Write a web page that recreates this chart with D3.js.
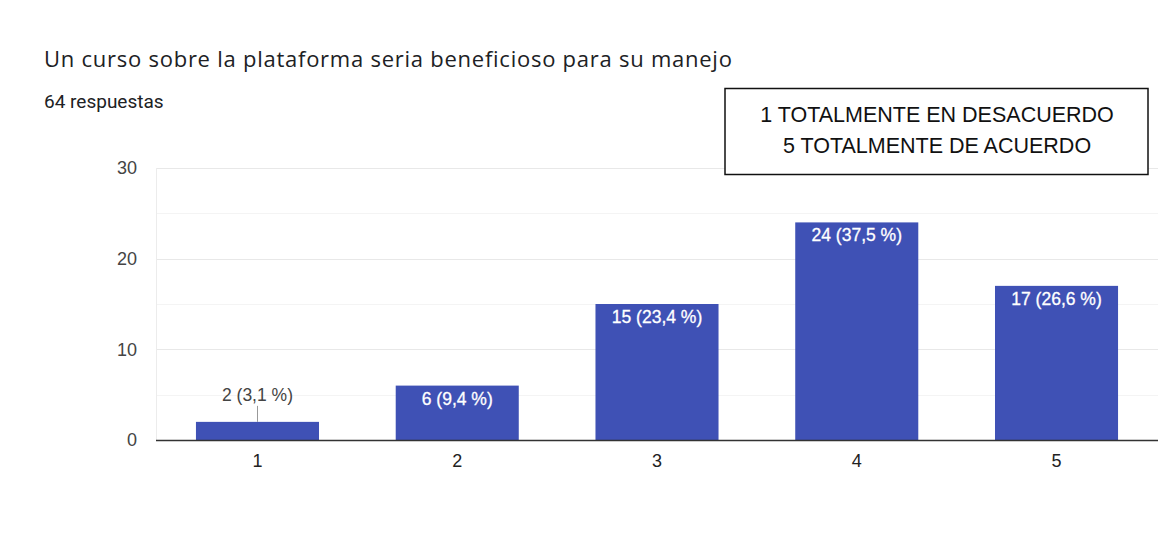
<!DOCTYPE html>
<html lang="en">
  <head>
    <meta charset="utf-8">
    <title>Un curso sobre la plataforma</title>
    <script src="https://cdn.jsdelivr.net/npm/d3@7"></script>
    <style>
      body { margin: 0; background: #fff; }
      svg { display: block; }
    </style>
  </head>
  <body>
    <div id="chart"></div>
    <script type='text/javascript'>
      // data
      let categories = ['1', '2', '3', '4', '5'];
      let counts = [2, 6, 15, 24, 17];
      let labels = ['2 (3,1 %)', '6 (9,4 %)', '15 (23,4 %)', '24 (37,5 %)', '17 (26,6 %)'];
      let yTicks = [0, 10, 20, 30];
      let yMinor = [5, 15, 25];
      let legendLines = ['1 TOTALMENTE EN DESACUERDO', '5 TOTALMENTE DE ACUERDO'];

      let width = 1168, height = 550;
      let margin = {top: 168, right: 10, bottom: 110, left: 156};
      let labelFont = 'Arial, "Liberation Sans", sans-serif';

      let svg = d3.select('#chart').append('svg')
        .attr('width', width)
        .attr('height', height)

      let x = d3.scaleBand()
        .domain(categories)
        .range([margin.left, width - margin.right])
        .paddingInner(0.384)
        .paddingOuter(0.2)

      let y = d3.scaleLinear()
        .domain([0, 30])
        .range([height - margin.bottom, margin.top])

      // title
      svg.append('text')
        .attr('x', 44).attr('y', 67)
        .attr('font-family', '"Open Sans", Roboto, sans-serif')
        .attr('font-size', 22)
        .attr('letter-spacing', 0.75)
        .attr('fill', '#202124')
        .text('Un curso sobre la plataforma seria beneficioso para su manejo')

      svg.append('text')
        .attr('x', 44).attr('y', 108)
        .attr('font-family', 'Roboto, Arial, sans-serif')
        .attr('font-size', 19)
        .attr('fill', '#202124')
        .text('64 respuestas')

      // grid
      svg.append('g')
        .selectAll('line')
        .data(yMinor)
        .join('line')
        .attr('x1', margin.left).attr('x2', width - margin.right)
        .attr('y1', d => Math.round(y(d)) + 0.5).attr('y2', d => Math.round(y(d)) + 0.5)
        .attr('stroke', '#f4f4f4')

      svg.append('g')
        .selectAll('line')
        .data(yTicks.slice(1))
        .join('line')
        .attr('x1', margin.left).attr('x2', width - margin.right)
        .attr('y1', d => Math.round(y(d)) + 0.5).attr('y2', d => Math.round(y(d)) + 0.5)
        .attr('stroke', '#e8e8e8')

      svg.append('line')
        .attr('x1', margin.left + 0.5).attr('x2', margin.left + 0.5)
        .attr('y1', y(30)).attr('y2', y(0))
        .attr('stroke', '#ececec')

      // y axis labels
      let yAxis = svg.append('g')
        .attr('transform', 'translate(' + (margin.left - 19) + ',0)')
        .call(d3.axisLeft(y).tickValues(yTicks).tickSize(0).tickPadding(0))
      yAxis.select('.domain').remove()
      yAxis.selectAll('text')
        .attr('font-family', labelFont)
        .attr('font-size', 18)
        .attr('fill', '#444')

      // bars
      svg.append('g')
        .selectAll('rect')
        .data(counts)
        .join('rect')
        .attr('x', (d, i) => x(categories[i]))
        .attr('width', x.bandwidth())
        .attr('y', d => y(d))
        .attr('height', d => y(0) - y(d))
        .attr('fill', '#3f51b5')

      // baseline
      svg.append('line')
        .attr('x1', margin.left).attr('x2', width - margin.right)
        .attr('y1', y(0) + 0.5).attr('y2', y(0) + 0.5)
        .attr('stroke', '#333')
        .attr('stroke-width', 1.3)

      // x axis labels
      let xAxis = svg.append('g')
        .attr('transform', 'translate(0,' + (y(0) + 27) + ')')
        .call(d3.axisBottom(x).tickSize(0).tickPadding(0))
      xAxis.select('.domain').remove()
      xAxis.selectAll('text')
        .attr('dy', 0)
        .attr('font-family', labelFont)
        .attr('font-size', 18)
        .attr('fill', '#222')

      // value labels: outside the bar when it is too short
      let outside = d => y(0) - y(d) < 30;

      svg.append('g')
        .selectAll('text')
        .data(counts)
        .join('text')
        .attr('x', (d, i) => x(categories[i]) + x.bandwidth() / 2)
        .attr('y', d => outside(d) ? y(d) - 21 : y(d) + 19)
        .attr('text-anchor', 'middle')
        .attr('font-family', labelFont)
        .attr('font-size', 17.5)
        .attr('fill', d => outside(d) ? '#444' : '#fff')
        .attr('stroke', d => outside(d) ? 'none' : '#fff')
        .attr('stroke-width', 0.3)
        .text((d, i) => labels[i])

      // leader line for short bar
      svg.append('g')
        .selectAll('line')
        .data(categories.filter((c, i) => outside(counts[i])))
        .join('line')
        .attr('x1', c => Math.round(x(c) + x.bandwidth() / 2) + 0.5)
        .attr('x2', c => Math.round(x(c) + x.bandwidth() / 2) + 0.5)
        .attr('y1', c => y(counts[categories.indexOf(c)]) - 16)
        .attr('y2', c => y(counts[categories.indexOf(c)]))
        .attr('stroke', '#999')

      // legend box
      let box = svg.append('g')
      box.append('rect')
        .attr('x', 725).attr('y', 88.5)
        .attr('width', 423).attr('height', 86)
        .attr('fill', '#fff')
        .attr('stroke', '#111')
        .attr('stroke-width', 1.5)
      box.selectAll('text')
        .data(legendLines)
        .join('text')
        .attr('x', 937)
        .attr('y', (d, i) => 122 + i * 31)
        .attr('text-anchor', 'middle')
        .attr('font-family', labelFont)
        .attr('font-size', 21.5)
        .attr('fill', '#111')
        .text(d => d)
    </script>
  </body>
</html>
